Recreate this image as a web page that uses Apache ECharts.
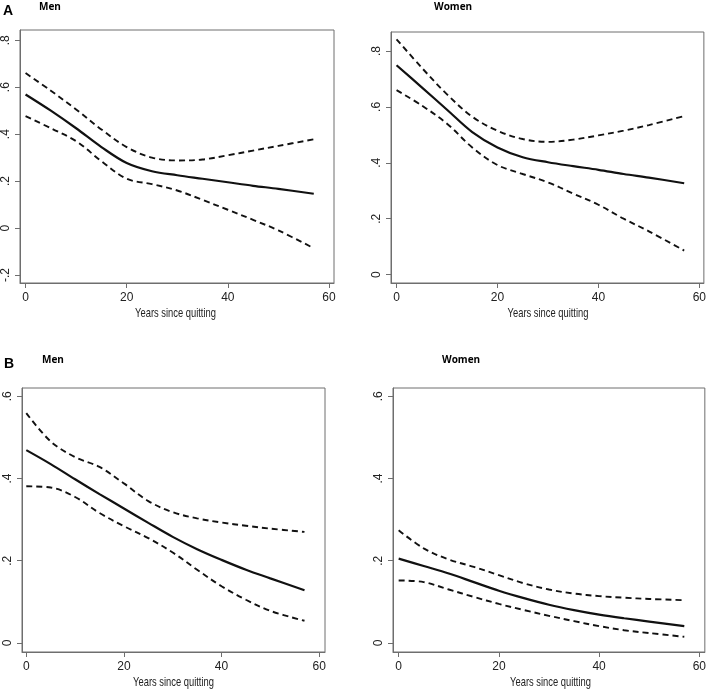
<!DOCTYPE html>
<html>
<head>
<meta charset="utf-8">
<script src="https://cdn.jsdelivr.net/npm/echarts@6/dist/echarts.min.js"></script>
<style>
html,body{margin:0;padding:0;background:#fff;}
#chart{width:709px;height:689px;}
</style>
</head>
<body>
<div id="chart"></div>
<script>
// ---- data ----
const years = [0, 5, 10, 15, 20, 25, 30, 35, 40, 45, 50, 57];

const aMenEst   = [0.569, 0.500, 0.425, 0.345, 0.277, 0.242, 0.225, 0.210, 0.195, 0.180, 0.167, 0.146];
const aMenUpper = [0.660, 0.585, 0.505, 0.420, 0.345, 0.300, 0.288, 0.292, 0.310, 0.330, 0.350, 0.378];
const aMenLower = [0.477, 0.425, 0.370, 0.285, 0.210, 0.187, 0.160, 0.120, 0.078, 0.035, -0.010, -0.086];

const aWomenEst   = [0.749, 0.670, 0.590, 0.510, 0.455, 0.420, 0.402, 0.388, 0.375, 0.360, 0.347, 0.327];
const aWomenUpper = [0.842, 0.740, 0.645, 0.565, 0.515, 0.485, 0.475, 0.483, 0.498, 0.515, 0.535, 0.567];
const aWomenLower = [0.660, 0.605, 0.540, 0.455, 0.392, 0.360, 0.330, 0.290, 0.250, 0.200, 0.155, 0.086];

const bMenEst   = [0.469, 0.435, 0.398, 0.362, 0.327, 0.292, 0.258, 0.228, 0.202, 0.178, 0.157, 0.128];
const bMenUpper = [0.559, 0.490, 0.452, 0.428, 0.388, 0.345, 0.318, 0.303, 0.293, 0.285, 0.278, 0.270];
const bMenLower = [0.381, 0.378, 0.355, 0.316, 0.284, 0.255, 0.220, 0.178, 0.138, 0.105, 0.078, 0.054];

const bWomenEst   = [0.205, 0.187, 0.169, 0.148, 0.127, 0.109, 0.093, 0.080, 0.069, 0.060, 0.052, 0.041];
const bWomenUpper = [0.274, 0.230, 0.203, 0.185, 0.165, 0.145, 0.130, 0.120, 0.114, 0.110, 0.107, 0.104];
const bWomenLower = [0.152, 0.148, 0.130, 0.112, 0.095, 0.080, 0.066, 0.053, 0.041, 0.031, 0.024, 0.015];

const xTicks = [0, 20, 40, 60];
const xTickLabels = ['0', '20', '40', '60'];
const yTicksAMen = [-0.2, 0, 0.2, 0.4, 0.6, 0.8];
const yLabelsAMen = ['-.2', '0', '.2', '.4', '.6', '.8'];
const yTicksAWomen = [0, 0.2, 0.4, 0.6, 0.8];
const yLabelsAWomen = ['0', '.2', '.4', '.6', '.8'];
const yTicksB = [0, 0.2, 0.4, 0.6];
const yLabelsB = ['0', '.2', '.4', '.6'];

const panelLetters = ['A', 'B'];
const panelTitles = ['Men', 'Women', 'Men', 'Women'];
const xAxisName = 'Years since quitting';

// ---- layout ----
const panels = [
  {grid: {left: 17, top: 30, width: 317, height: 253}, xr: [-1.1, 61.0], yr: [-0.234, 0.8435], yt: yTicksAMen, yl: yLabelsAMen,
   est: aMenEst, up: aMenUpper, lo: aMenLower},
  {grid: {left: 391, top: 32, width: 314, height: 251}, xr: [-1.1, 60.9], yr: [-0.03, 0.868], yt: yTicksAWomen, yl: yLabelsAWomen,
   est: aWomenEst, up: aWomenUpper, lo: aWomenLower},
  {grid: {left: 22, top: 388, width: 303, height: 264}, xr: [-0.88, 61.2], yr: [-0.022, 0.62], yt: yTicksB, yl: yLabelsB,
   est: bMenEst, up: bMenUpper, lo: bMenLower},
  {grid: {left: 393, top: 388, width: 315, height: 264}, xr: [-1.13, 61.1], yr: [-0.022, 0.62], yt: yTicksB, yl: yLabelsB,
   est: bWomenEst, up: bWomenUpper, lo: bWomenLower}
];

const frameColor = '#6e6e6e';
const labelFont = '"Liberation Sans", Arial, sans-serif';

const grids = [], xAxes = [], yAxes = [], series = [], graphics = [];
panels.forEach((p, i) => {
  grids.push(Object.assign({show: true, borderColor: frameColor, borderWidth: 1, backgroundColor: '#fff'}, p.grid));
  xAxes.push({
    type: 'value', gridIndex: i, min: p.xr[0], max: p.xr[1],
    axisLine: {show: true, onZero: false, lineStyle: {color: frameColor, width: 1}},
    axisTick: {show: true, length: 5, lineStyle: {color: frameColor}, customValues: xTicks},
    axisLabel: {customValues: xTicks, margin: 9, fontFamily: labelFont, fontSize: 12, color: '#222',
      formatter: v => { const k = xTicks.findIndex(t => Math.abs(t - v) < 1e-9); return k >= 0 ? xTickLabels[k] : ''; }},
    splitLine: {show: false}
  });
  yAxes.push({
    type: 'value', gridIndex: i, min: p.yr[0], max: p.yr[1],
    axisLine: {show: true, onZero: false, lineStyle: {color: frameColor, width: 1}},
    axisTick: {show: true, length: 5, lineStyle: {color: frameColor}, customValues: p.yt},
    axisLabel: {customValues: p.yt, rotate: 90, margin: 8, fontFamily: labelFont, fontSize: 12, color: '#222',
      formatter: v => { const k = p.yt.findIndex(t => Math.abs(t - v) < 1e-9); return k >= 0 ? p.yl[k] : ''; }},
    splitLine: {show: false}
  });
  // x-axis title (condensed, as in the original figure)
  graphics.push({
    type: 'text', x: p.grid.left + p.grid.width / 2, y: p.grid.top + p.grid.height + 30,
    scaleX: 0.72, silent: true,
    style: {text: xAxisName, fontFamily: labelFont, fontSize: 13, fill: '#222', textAlign: 'center', textVerticalAlign: 'middle'}
  });
  const mk = (arr, dashed) => ({
    type: 'line', xAxisIndex: i, yAxisIndex: i, smooth: 0.35, symbol: 'none',
    data: years.map((x, j) => [x, arr[j]]),
    lineStyle: {color: '#111', width: dashed ? 1.9 : 2.2, type: dashed ? [6, 4] : 'solid'},
    silent: true, animation: false
  });
  series.push(mk(p.est, false), mk(p.up, true), mk(p.lo, true));
});

const titleFontBold = '"Open Sans", "Liberation Sans", Arial, sans-serif';
const letterFont = '"Liberation Sans", Arial, sans-serif';
const titles = [
  {text: panelLetters[0], left: 3, top: 4, textStyle: {fontFamily: letterFont, fontWeight: 'bold', fontSize: 14, color: '#000'}},
  {text: panelTitles[0], left: 39, top: 2, textStyle: {fontFamily: titleFontBold, fontWeight: 'bold', fontSize: 10, color: '#000'}},
  {text: panelTitles[1], left: 434, top: 2, textStyle: {fontFamily: titleFontBold, fontWeight: 'bold', fontSize: 10, color: '#000'}},
  {text: panelLetters[1], left: 4, top: 357, textStyle: {fontFamily: letterFont, fontWeight: 'bold', fontSize: 14, color: '#000'}},
  {text: panelTitles[2], left: 42, top: 355, textStyle: {fontFamily: titleFontBold, fontWeight: 'bold', fontSize: 10, color: '#000'}},
  {text: panelTitles[3], left: 442, top: 355, textStyle: {fontFamily: titleFontBold, fontWeight: 'bold', fontSize: 10, color: '#000'}}
].map(t => Object.assign({padding: 0}, t));

const chart = echarts.init(document.getElementById('chart'), null, {renderer: 'canvas'});
chart.setOption({
  animation: false,
  backgroundColor: '#fff',
  title: titles,
  grid: grids,
  xAxis: xAxes,
  yAxis: yAxes,
  graphic: graphics,
  series: series
});
</script>
</body>
</html>
